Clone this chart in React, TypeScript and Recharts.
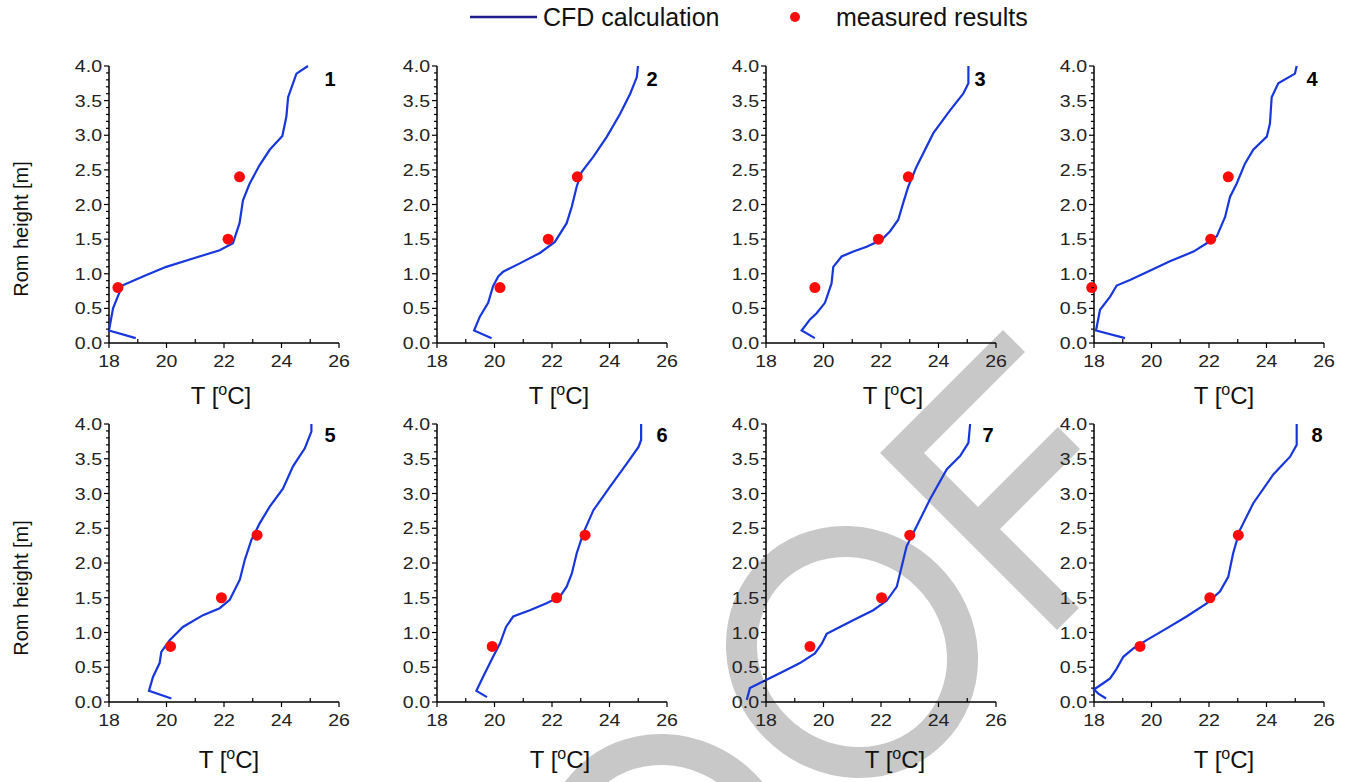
import React from 'react';
import { ScatterChart, Scatter, XAxis, YAxis } from 'recharts';

// ---------- data ----------
const xTickLabels = [18, 19, 20, 21, 22, 23, 24, 25, 26];
const yTickValues = Array.from({ length: 41 }, (_, i) => i / 10);
const measuredHeights = [0.8, 1.5, 2.4];

const cfdT1 = [18.93, 18.0, 18.14, 18.46, 19.18, 19.99, 20.92, 21.85, 22.31, 22.54, 22.66, 22.89, 23.24, 23.59, 24.03, 24.17, 24.23, 24.4, 24.52, 24.92];
const cfdH1 = [0.07, 0.18, 0.5, 0.83, 0.96, 1.1, 1.22, 1.34, 1.44, 1.73, 2.06, 2.3, 2.57, 2.79, 2.99, 3.27, 3.55, 3.75, 3.89, 4.0];
const measT1 = [18.31, 22.14, 22.54];

const cfdT2 = [19.9, 19.29, 19.49, 19.78, 19.95, 20.13, 20.3, 20.88, 21.58, 22.1, 22.51, 22.69, 22.86, 23.03, 23.44, 23.91, 24.37, 24.72, 24.95, 24.99];
const cfdH2 = [0.07, 0.18, 0.38, 0.58, 0.82, 0.96, 1.03, 1.15, 1.3, 1.46, 1.73, 1.97, 2.26, 2.47, 2.69, 2.98, 3.31, 3.6, 3.84, 4.0];
const measT2 = [20.19, 21.87, 22.88];

const cfdT3 = [19.7, 19.24, 19.53, 19.76, 20.05, 20.28, 20.34, 20.63, 21.04, 21.5, 22.02, 22.31, 22.6, 22.77, 22.95, 23.24, 23.82, 24.4, 24.86, 25.04, 25.04];
const cfdH3 = [0.07, 0.18, 0.34, 0.43, 0.58, 0.86, 1.1, 1.25, 1.32, 1.39, 1.49, 1.61, 1.78, 2.02, 2.26, 2.55, 3.03, 3.36, 3.6, 3.75, 4.0];
const measT3 = [19.7, 21.91, 22.95];

const cfdT4 = [19.08, 18.07, 18.21, 18.56, 18.79, 19.25, 19.83, 20.64, 21.46, 21.92, 22.27, 22.56, 22.73, 22.96, 23.25, 23.54, 24.01, 24.12, 24.18, 24.41, 24.99, 25.05];
const cfdH4 = [0.07, 0.18, 0.48, 0.67, 0.83, 0.91, 1.02, 1.18, 1.32, 1.44, 1.54, 1.82, 2.11, 2.3, 2.59, 2.79, 2.98, 3.17, 3.55, 3.75, 3.89, 4.0];
const measT4 = [17.92, 22.06, 22.67];

const cfdT5 = [20.17, 19.39, 19.53, 19.76, 19.82, 20.11, 20.57, 21.27, 21.85, 22.2, 22.55, 22.72, 22.95, 23.24, 23.59, 24.05, 24.4, 24.81, 25.04, 25.04];
const cfdH5 = [0.05, 0.16, 0.36, 0.56, 0.72, 0.89, 1.08, 1.25, 1.35, 1.47, 1.76, 2.04, 2.33, 2.57, 2.81, 3.07, 3.39, 3.65, 3.89, 4.0];
const measT5 = [20.14, 21.91, 23.15];

const cfdT6 = [19.74, 19.37, 19.6, 19.95, 20.19, 20.4, 20.65, 21.23, 21.81, 22.28, 22.51, 22.69, 22.86, 23.09, 23.44, 24.02, 24.6, 25.01, 25.1, 25.1];
const cfdH6 = [0.07, 0.16, 0.36, 0.65, 0.84, 1.08, 1.23, 1.32, 1.42, 1.52, 1.66, 1.85, 2.14, 2.43, 2.76, 3.1, 3.43, 3.67, 3.77, 4.0];
const measT6 = [19.92, 22.16, 23.15];

const cfdT7 = [17.33, 17.39, 17.44, 18.02, 18.6, 19.18, 19.7, 19.94, 20.11, 20.57, 21.15, 21.73, 22.2, 22.55, 22.72, 22.89, 23.24, 23.71, 24.29, 24.75, 25.04, 25.1];
const cfdH7 = [0.03, 0.12, 0.2, 0.32, 0.44, 0.56, 0.7, 0.84, 0.98, 1.08, 1.2, 1.32, 1.46, 1.66, 1.95, 2.24, 2.53, 2.92, 3.35, 3.54, 3.73, 4.0];
const measT7 = [19.53, 22.02, 23.0];

const cfdT8 = [18.42, 18.15, 18.0, 18.32, 18.56, 18.79, 19.02, 19.37, 19.83, 20.53, 21.22, 21.92, 22.38, 22.67, 22.84, 23.07, 23.54, 24.23, 24.82, 25.05, 25.05];
const cfdH8 = [0.05, 0.12, 0.18, 0.27, 0.34, 0.48, 0.65, 0.77, 0.89, 1.06, 1.23, 1.42, 1.59, 1.8, 2.14, 2.47, 2.86, 3.27, 3.53, 3.7, 4.0];
const measT8 = [19.6, 22.03, 23.02];

const panelNames = ['1', '2', '3', '4', '5', '6', '7', '8'];
const cfdTs = [cfdT1, cfdT2, cfdT3, cfdT4, cfdT5, cfdT6, cfdT7, cfdT8];
const cfdHs = [cfdH1, cfdH2, cfdH3, cfdH4, cfdH5, cfdH6, cfdH7, cfdH8];
const measTs = [measT1, measT2, measT3, measT4, measT5, measT6, measT7, measT8];

// ---------- layout ----------
const plotLefts = [109, 437, 766, 1094];
const rowTops = [66, 424];
const rowPlotH = [277, 278];
const tLabelX = [221, 559, 893, 1224, 229, 560, 895, 1224];
const tLabelY = [404, 768];
const numX = [330, 652, 980, 1312, 330, 662, 988, 1317];
const numY = [86, 442];

const FONT = '"Liberation Sans", Arial, Helvetica, sans-serif';
const LINE_COLOR = '#1736dc';
const DOT_COLOR = '#ff0a0a';

const XTick = (props: any) => {
  const { x, y, payload } = props;
  const v = payload.value;
  const major = v % 2 === 0;
  return (
    <g>
      <line x1={x} x2={x} y1={y} y2={major ? y + 5 : y - 4} stroke="#000" strokeWidth={1.2} />
      {major && (
        <text
          transform={`translate(${x},${y + 24}) scale(1.15,1)`}
          textAnchor="middle"
          fontFamily={FONT}
          fontSize={17}
          fill="#222"
        >
          {v}
        </text>
      )}
    </g>
  );
};

const YTick = (props: any) => {
  const { x, y, payload } = props;
  const v = payload.value;
  const major = Math.abs(v * 2 - Math.round(v * 2)) < 1e-6;
  return (
    <g>
      <line x1={x} x2={x - (major ? 5 : 3)} y1={y} y2={y} stroke="#000" strokeWidth={1.2} />
      {major && (
        <text
          transform={`translate(${x - 7},${y + 6}) scale(1.15,1)`}
          textAnchor="end"
          fontFamily={FONT}
          fontSize={17}
          fill="#222"
        >
          {v.toFixed(1)}
        </text>
      )}
    </g>
  );
};

const Panel = ({ idx }: { idx: number }) => {
  const row = idx < 4 ? 0 : 1;
  const col = idx % 4;
  const plotH = rowPlotH[row];
  const left = plotLefts[col] - 50;
  const top = rowTops[row] - 10;
  const cfdData = cfdTs[idx].map((t, i) => ({ T: t, H: cfdHs[idx][i] }));
  const measData = measTs[idx].map((t, i) => ({ T: t, H: measuredHeights[i] }));
  return (
    <div style={{ position: 'absolute', left, top, width: 300, height: plotH + 40 }}>
      <ScatterChart
        width={300}
        height={plotH + 40}
        margin={{ top: 10, right: 20, bottom: 0, left: 0 }}
      >
        <XAxis
          type="number"
          dataKey="T"
          domain={[18, 26]}
          ticks={xTickLabels}
          interval={0}
          allowDataOverflow
          height={30}
          tickSize={0}
          tickMargin={0}
          tickLine={false}
          axisLine={{ stroke: '#000', strokeWidth: 1.5 }}
          tick={<XTick />}
        />
        <YAxis
          type="number"
          dataKey="H"
          domain={[0, 4]}
          ticks={yTickValues}
          interval={0}
          allowDataOverflow
          width={50}
          tickSize={0}
          tickMargin={0}
          tickLine={false}
          axisLine={{ stroke: '#000', strokeWidth: 1.5 }}
          tick={<YTick />}
        />
        <Scatter
          data={cfdData}
          isAnimationActive={false}
          line={{ stroke: LINE_COLOR, strokeWidth: 2.2 }}
          lineType="joint"
          fill={LINE_COLOR}
          shape={() => <g />}
        />
        <Scatter
          data={measData}
          isAnimationActive={false}
          fill={DOT_COLOR}
          shape={(p: any) => <circle cx={p.cx} cy={p.cy} r={5.5} fill={DOT_COLOR} />}
        />
      </ScatterChart>
    </div>
  );
};

const Watermark = () => {
  const g = '#c8c8c8';
  return (
    <svg width={1349} height={782} style={{ position: 'absolute', left: 0, top: 0 }}>
      <ellipse cx={852} cy={652} rx={114} ry={107} fill="none" stroke={g} strokeWidth={31} transform="rotate(45 852 652)" />
      <ellipse cx={668} cy={860} rx={114} ry={107} fill="none" stroke={g} strokeWidth={31} transform="rotate(45 668 860)" />
      <polygon
        fill={g}
        points="880,453 1003,330 1025,352 924,453 978,507 1058,427 1080,449 1000,529 1079,608 1057,630"
      />
    </svg>
  );
};

const Overlay = () => (
  <svg width={1349} height={782} style={{ position: 'absolute', left: 0, top: 0, pointerEvents: 'none' }}>
    {/* legend */}
    <line x1={470} x2={537} y1={17} y2={17} stroke="#1c1c8c" strokeWidth={2.5} />
    <text x={543} y={26} fontFamily={FONT} fontSize={25} fill="#111">CFD calculation</text>
    <circle cx={795} cy={17} r={5} fill={DOT_COLOR} />
    <text x={836} y={26} fontFamily={FONT} fontSize={25} fill="#111">measured results</text>
    {/* y labels */}
    {[229, 588].map((cy, i) => (
      <text
        key={'yl' + i}
        transform={`translate(28,${cy}) rotate(-90)`}
        textAnchor="middle"
        fontFamily={FONT}
        fontSize={20}
        fill="#111"
      >
        Rom height [m]
      </text>
    ))}
    {/* x labels and panel numbers */}
    {panelNames.map((name, i) => {
      const row = i < 4 ? 0 : 1;
      return (
        <g key={'p' + i}>
          <text x={tLabelX[i]} y={tLabelY[row]} textAnchor="middle" fontFamily={FONT} fontSize={24} fill="#111">
            <tspan>T [</tspan>
            <tspan dy={-9} fontSize={16}>o</tspan>
            <tspan dy={9}>C]</tspan>
          </text>
          <text x={numX[i]} y={numY[row]} textAnchor="middle" fontFamily={FONT} fontSize={20} fontWeight="bold" fill="#000">
            {name}
          </text>
        </g>
      );
    })}
  </svg>
);

export default function App() {
  return (
    <div style={{ position: 'absolute', left: 0, top: 0, width: 1349, height: 782, background: '#fff', overflow: 'hidden' }}>
      <style>{'.recharts-scatter { clip-path: none !important; } .recharts-surface { overflow: visible; }'}</style>
      <Watermark />
      {panelNames.map((_, i) => (
        <Panel key={i} idx={i} />
      ))}
      <Overlay />
    </div>
  );
}
